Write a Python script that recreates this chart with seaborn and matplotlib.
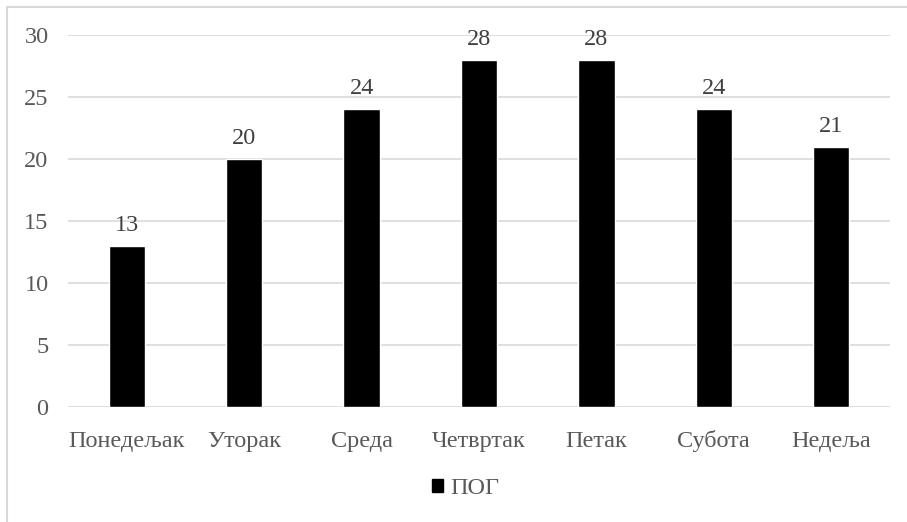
import matplotlib
matplotlib.use("Agg")
import matplotlib.pyplot as plt
import seaborn as sns
import pandas as pd
from matplotlib.patches import Rectangle
from matplotlib.lines import Line2D

days = ["Понедељак", "Уторак", "Среда", "Четвртак", "Петак", "Субота", "Недеља"]
values = [13, 20, 24, 28, 28, 24, 21]
series_name = "ПОГ"
yticks = [0, 5, 10, 15, 20, 25, 30]

sns.set_theme(style="white")
plt.rcParams["font.family"] = ["Liberation Serif", "DejaVu Serif"]

df = pd.DataFrame({"day": days, "value": values})

fig = plt.figure(figsize=(9.07, 5.22), dpi=100)
ax = fig.add_axes([68 / 907, 1 - 407 / 522, (890 - 68) / 907, (407 - 35) / 522])

sns.barplot(data=df, x="day", y="value", color="black", width=0.31,
            saturation=1, ax=ax, label=series_name, legend=False)

ax.set_ylim(0, 30)
ax.set_xlim(-0.5, len(days) - 0.5)
ax.set_yticks(yticks)
ax.set_xlabel("")
ax.set_ylabel("")
for y in yticks:
    ax.axhline(y, color="#d9d9d9", lw=1.2, zorder=0)
for s in ax.spines.values():
    s.set_visible(False)
ax.tick_params(axis="both", length=0, labelsize=17.5, colors="#595959")
ax.tick_params(axis="x", pad=29)
ax.tick_params(axis="y", pad=14)
for lab in ax.get_xticklabels():
    lab.set_verticalalignment("baseline")

for i, v in enumerate(values):
    ax.text(i, v + 0.8, str(v), ha="center", va="bottom", fontsize=17.5, color="#404040")

handles = [Rectangle((0, 0), 1, 1, color="black")]
leg = fig.legend(handles, [series_name], loc="center", bbox_to_anchor=(466 / 907, 1 - 489 / 522),
                 frameon=False, fontsize=17.5, handlelength=0.45, handleheight=0.45,
                 handletextpad=0.3)
for t in leg.get_texts():
    t.set_color("#595959")

# chart frame: only left and top edges visible in the crop
fig.add_artist(Line2D([6.5 / 907, 6.5 / 907], [0, 1 - 6.5 / 522], transform=fig.transFigure,
                      color="#d9d9d9", lw=1.5))
fig.add_artist(Line2D([6.5 / 907, 1], [1 - 6.5 / 522, 1 - 6.5 / 522], transform=fig.transFigure,
                      color="#d9d9d9", lw=1.5))

fig.savefig("out.png", dpi=100)
